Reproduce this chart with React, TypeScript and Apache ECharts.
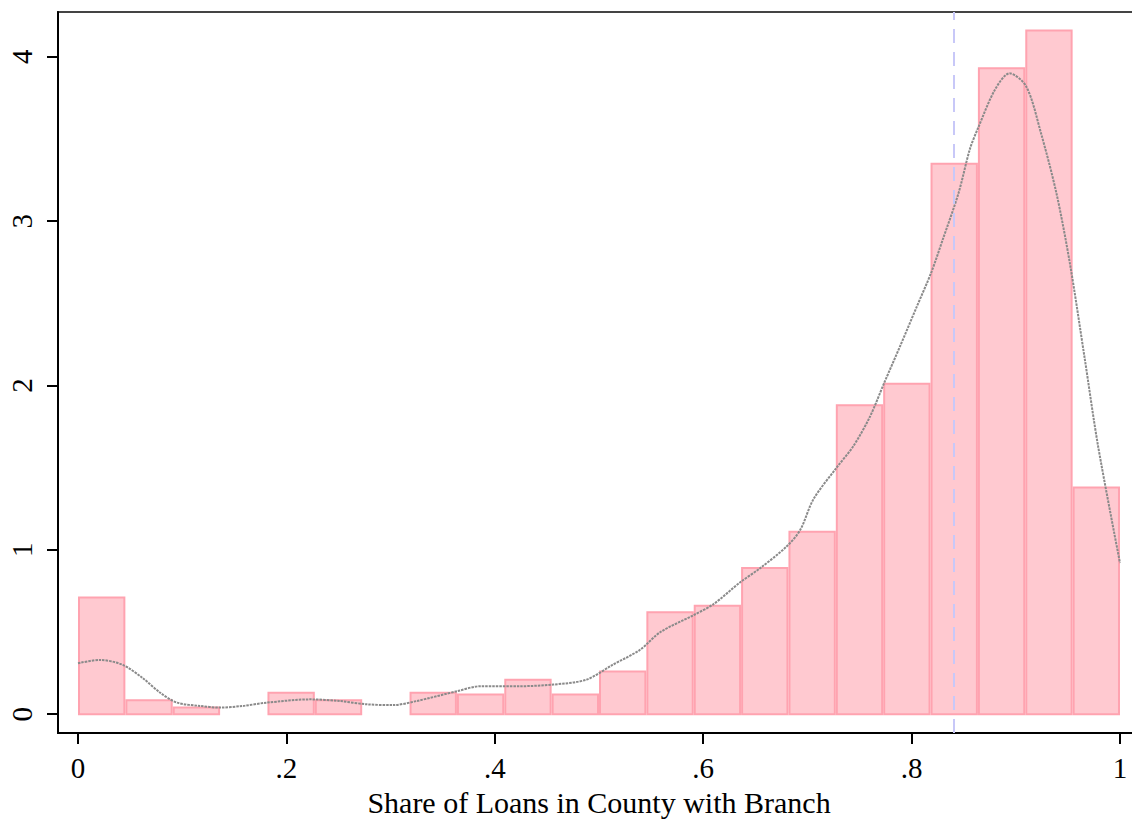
import React, { useEffect, useRef } from "react";
import * as echarts from "echarts";

// Histogram: 22 equal bins on [0, 1]
const binCount = 22;
const binHeights = [
  0.71, 0.085, 0.04, 0, 0.13, 0.085, 0, 0.13, 0.12, 0.21, 0.12,
  0.26, 0.62, 0.66, 0.89, 1.11, 1.88, 2.01, 3.35, 3.93, 4.16, 1.38,
];

// Kernel density curve
const densityX = [
  0, 0.021, 0.043, 0.062, 0.079, 0.095, 0.117, 0.136, 0.158, 0.181, 0.223,
  0.251, 0.277, 0.302, 0.325, 0.364, 0.386, 0.424, 0.456, 0.488, 0.513,
  0.539, 0.559, 0.59, 0.61, 0.635, 0.655, 0.68, 0.693, 0.706, 0.728, 0.744,
  0.76, 0.774, 0.789, 0.805, 0.819, 0.83, 0.845, 0.856, 0.864, 0.88, 0.894,
  0.91, 0.924, 0.939, 0.952, 0.966, 0.979, 1.0,
];
const densityY = [
  0.31, 0.33, 0.3, 0.22, 0.13, 0.07, 0.05, 0.04, 0.05, 0.07, 0.09, 0.08,
  0.06, 0.055, 0.08, 0.14, 0.17, 0.17, 0.18, 0.21, 0.3, 0.39, 0.5, 0.6, 0.67,
  0.8, 0.89, 1.02, 1.12, 1.31, 1.5, 1.63, 1.81, 2.02, 2.24, 2.48, 2.69, 2.89,
  3.17, 3.44, 3.57, 3.8, 3.9, 3.82, 3.54, 3.17, 2.74, 2.17, 1.63, 0.92,
];

const meanLineX = 0.8445;

const xTicks = [0, 0.2, 0.4, 0.6, 0.8, 1];
const yTicks = [0, 1, 2, 3, 4];

const fmtX = (v: number) => {
  if (v === 0) return "0";
  if (v === 1) return "1";
  return v.toFixed(1).replace(/^0/, "");
};

const FONT = "'Liberation Serif', 'Times New Roman', serif";

export default function App() {
  const ref = useRef<HTMLDivElement>(null);

  useEffect(() => {
    if (!ref.current) return;
    const chart = echarts.init(ref.current, undefined, { renderer: "svg" });

    const binData = binHeights.map((h, i) => [i / binCount, (i + 1) / binCount, h]);
    const densityData = densityX.map((x, i) => [x, densityY[i]]);

    chart.setOption({
      animation: false,
      backgroundColor: "#ffffff",
      grid: {
        left: 58,
        top: 12,
        right: 10,
        bottom: 87,
        show: true,
        borderColor: "#444",
        borderWidth: 2,
        backgroundColor: "transparent",
      },
      xAxis: {
        type: "value",
        min: -0.0192,
        max: 1.0192,
        name: "Share of Loans in County with Branch",
        nameLocation: "middle",
        nameGap: 52,
        nameTextStyle: { fontFamily: FONT, fontSize: 30, color: "#000" },
        axisLine: { show: true, onZero: false, lineStyle: { color: "#000", width: 2 } },
        axisTick: {
          show: true,
          length: 11,
          customValues: xTicks,
          lineStyle: { color: "#000", width: 2 },
        },
        axisLabel: {
          customValues: xTicks,
          formatter: (v: number) => fmtX(v),
          fontFamily: FONT,
          fontSize: 29,
          color: "#000",
          margin: 20,
        },
        splitLine: { show: false },
      },
      yAxis: {
        type: "value",
        min: -0.1153,
        max: 4.273,
        axisLine: { show: true, onZero: false, lineStyle: { color: "#000", width: 2 } },
        axisTick: {
          show: true,
          length: 11,
          customValues: yTicks,
          lineStyle: { color: "#000", width: 2 },
        },
        axisLabel: {
          customValues: yTicks,
          rotate: 90,
          fontFamily: FONT,
          fontSize: 29,
          color: "#000",
          margin: 22,
        },
        splitLine: { show: false },
      },
      series: [
        {
          type: "custom",
          data: binData,
          encode: { x: [0, 1], y: 2 },
          z: 2,
          renderItem: (params: any, api: any) => {
            const x0 = api.value(0);
            const x1 = api.value(1);
            const h = api.value(2);
            if (!h) return null;
            const p0 = api.coord([x0, h]);
            const p1 = api.coord([x1, 0]);
            return {
              type: "rect",
              shape: {
                x: p0[0] + 1,
                y: p0[1],
                width: p1[0] - p0[0] - 2,
                height: p1[1] - p0[1],
              },
              style: { fill: "#ffc9d0", stroke: "#ffa3b0", lineWidth: 2 },
            };
          },
        },
        {
          type: "line",
          data: densityData,
          smooth: 0.3,
          symbol: "none",
          z: 4,
          lineStyle: { color: "#8a8a8a", width: 2, type: [2.5, 1] },
          markLine: {
            silent: true,
            symbol: "none",
            label: { show: false },
            lineStyle: { color: "#c8c8f8", width: 2, type: [14, 9] },
            data: [{ xAxis: meanLineX }],
          },
        },
      ],
    });

    return () => chart.dispose();
  }, []);

  return (
    <div
      ref={ref}
      style={{ position: "fixed", left: 0, top: 0, width: 1150, height: 822 }}
    />
  );
}
